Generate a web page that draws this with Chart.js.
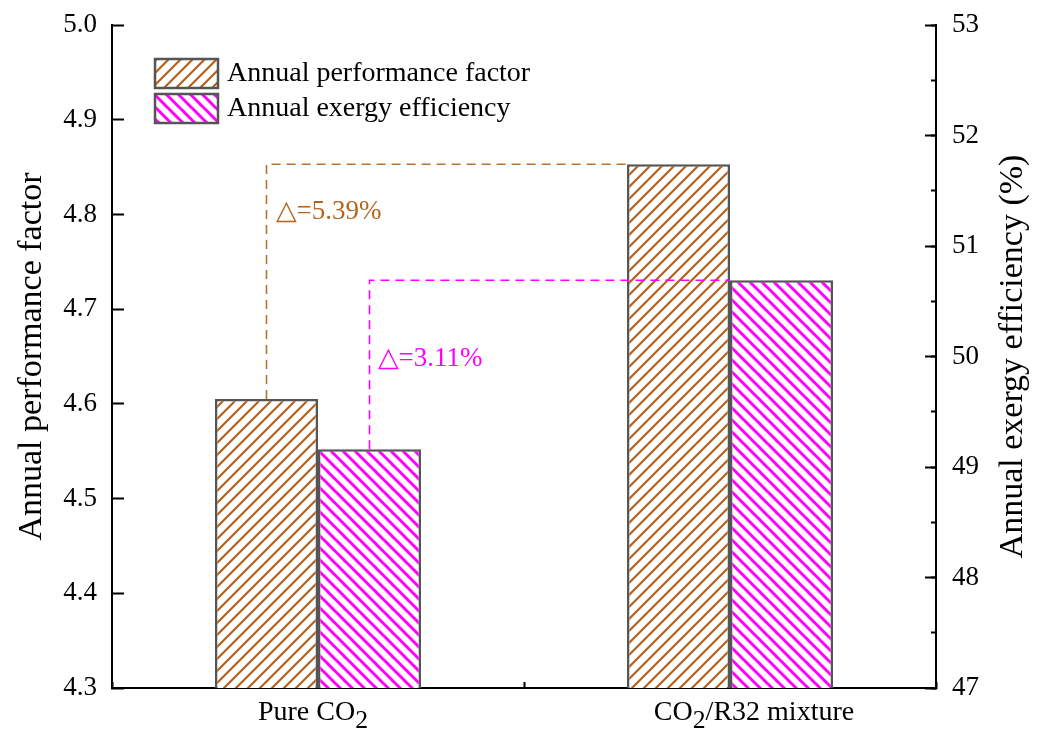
<!DOCTYPE html>
<html>
<head>
<meta charset="utf-8">
<script src="https://cdn.jsdelivr.net/npm/chart.js@4.4.1/dist/chart.umd.min.js"></script>
<style>
  body { margin: 0; background: #fff; }
  #wrap { width: 1040px; height: 731px; }
</style>
</head>
<body>
<div id="wrap"><canvas id="apfChart"></canvas></div>
<script>
// data
const categories = ['Pure CO₂', 'CO₂/R32 mixture'];
const seriesNames = ['Annual performance factor', 'Annual exergy efficiency'];
const apfValues = [4.605, 4.853];
const exergyValues = [49.16, 50.69];
const apfAxis = [4.3, 5.0, 0.1];   // min, max, step
const exergyAxis = [47, 53, 1];
const axisTitles = ['Annual performance factor', 'Annual exergy efficiency (%)'];
const deltaLabels = ['△=5.39%', '△=3.11%'];

const SERIF = "'Liberation Serif', 'Times New Roman', serif";
const BROWN = '#b5611a';
const MAGENTA = '#ff00ff';
Chart.defaults.font.family = SERIF;
Chart.defaults.color = '#000';

// diagonal hatch fill, dir 1 = "/" , -1 = "\"
function hatch(color, width, dir) {
    const s = 12;
    const c = document.createElement('canvas');
    c.width = s; c.height = s;
    const g = c.getContext('2d');
    g.fillStyle = '#fff';
    g.fillRect(0, 0, s, s);
    g.strokeStyle = color;
    g.lineWidth = width;
    g.beginPath();
    for (let k = -1; k <= 1; k++) {
        if (dir > 0) {
            g.moveTo(k * s - 1, s + 1);
            g.lineTo(k * s + s + 1, -1);
        } else {
            g.moveTo(k * s - 1, -1);
            g.lineTo(k * s + s + 1, s + 1);
        }
    }
    g.stroke();
    return g.createPattern(c, 'repeat');
}

const ctxMain = document.getElementById('apfChart').getContext('2d');
const brownHatch = hatch(BROWN, 2.2, 1);
const magentaHatch = hatch(MAGENTA, 3, -1);

// text with "₂" drawn as a lowered digit
function drawSub(ctx, text, cx, baseline, size, align) {
    const parts = text.split('₂');
    const subSize = size * 0.92;
    let total = 0;
    const pieces = [];
    parts.forEach((p, i) => {
        ctx.font = size + 'px ' + SERIF;
        pieces.push({ t: p, w: ctx.measureText(p).width, sub: false });
        total += pieces[pieces.length - 1].w;
        if (i < parts.length - 1) {
            ctx.font = subSize + 'px ' + SERIF;
            pieces.push({ t: '2', w: ctx.measureText('2').width, sub: true });
            total += pieces[pieces.length - 1].w;
        }
    });
    let x = align === 'left' ? cx : cx - total / 2;
    ctx.textAlign = 'left';
    ctx.textBaseline = 'alphabetic';
    pieces.forEach(p => {
        ctx.font = (p.sub ? subSize : size) + 'px ' + SERIF;
        ctx.fillText(p.t, x, baseline + (p.sub ? 8 : 0));
        x += p.w;
    });
}

function drawLink(ctx, from, to, color) {
    const x0 = from.x, y0 = from.y;
    const x1 = to.x - to.width / 2, y1 = to.y;
    ctx.save();
    ctx.strokeStyle = color;
    ctx.lineWidth = 1.6;
    ctx.setLineDash([9, 6]);
    ctx.beginPath();
    ctx.moveTo(x0, y0);
    ctx.lineTo(x0, y1);
    ctx.lineTo(x1, y1);
    ctx.stroke();
    ctx.restore();
    return { x: x0, y: y1 };
}

const annotate = {
    id: 'annotate',
    afterDatasetsDraw(chart) {
        const ctx = chart.ctx;
        const apfBars = chart.getDatasetMeta(0).data;
        const exBars = chart.getDatasetMeta(1).data;
        const a = drawLink(ctx, apfBars[0], apfBars[1], '#b8732e');
        const b = drawLink(ctx, exBars[0], exBars[1], MAGENTA);
        ctx.save();
        ctx.font = '27px ' + SERIF;
        ctx.textAlign = 'left';
        ctx.textBaseline = 'alphabetic';
        ctx.fillStyle = '#b5641e';
        ctx.fillText(deltaLabels[0], a.x + 9, a.y + 55);
        ctx.fillStyle = MAGENTA;
        ctx.fillText(deltaLabels[1], b.x + 8, b.y + 86);
        ctx.restore();
    },
    afterDraw(chart) {
        const ctx = chart.ctx;
        const area = chart.chartArea;
        ctx.save();
        ctx.fillStyle = '#000';

        // category labels
        const xs = chart.scales.x;
        const shift = [-5, 24];
        categories.forEach((c, i) => {
            drawSub(ctx, c, xs.getPixelForTick(i) + shift[i], 720, 28);
        });

        // right axis title, reading bottom to top
        const r = chart.scales.y1;
        ctx.translate(r.right - 27, (area.top + area.bottom) / 2);
        ctx.rotate(-Math.PI / 2);
        ctx.font = '34px ' + SERIF;
        ctx.textAlign = 'center';
        ctx.textBaseline = 'middle';
        ctx.fillText(axisTitles[1], 0, 0);
        ctx.setTransform(1, 0, 0, 1, 0, 0);

        // legend
        const fills = [brownHatch, magentaHatch];
        const lx = area.left + 43, ly = area.top + 34;
        seriesNames.forEach((name, i) => {
            const y = ly + i * 35;
            ctx.fillStyle = fills[i];
            ctx.fillRect(lx, y, 63, 29);
            ctx.strokeStyle = '#555';
            ctx.lineWidth = 2.5;
            ctx.strokeRect(lx, y, 63, 29);
            ctx.fillStyle = '#000';
            ctx.font = '28px ' + SERIF;
            ctx.textAlign = 'left';
            ctx.textBaseline = 'middle';
            ctx.fillText(name, lx + 72, y + 15);
        });
        ctx.restore();
    }
};

const tickFont = { family: SERIF, size: 27 };

// fixed box size, no extra room for the end labels
function fixWidth(w) {
    return s => {
        s.width = w;
        s.paddingTop = 0;
        s.paddingBottom = 0;
    };
}

new Chart(ctxMain, {
    type: 'bar',
    data: {
        labels: categories,
        datasets: [
            {
                label: seriesNames[0],
                data: apfValues,
                yAxisID: 'y',
                backgroundColor: brownHatch,
                borderColor: '#555',
                borderWidth: 2.5
            },
            {
                label: seriesNames[1],
                data: exergyValues,
                yAxisID: 'y1',
                backgroundColor: magentaHatch,
                borderColor: '#555',
                borderWidth: 2.5
            }
        ]
    },
    options: {
        responsive: true,
        maintainAspectRatio: false,
        animation: false,
        barPercentage: 1,
        categoryPercentage: 0.5,
        layout: { padding: { top: 25, left: 0, right: 0, bottom: 0 } },
        plugins: {
            legend: { display: false },
            tooltip: { enabled: false }
        },
        scales: {
            x: {
                ticks: { display: false },
                grid: { drawOnChartArea: false, tickLength: -6, tickColor: '#000', tickWidth: 2 },
                border: { color: '#000', width: 2 },
                afterFit: s => { s.height = 43; }
            },
            y: {
                position: 'left',
                min: apfAxis[0],
                max: apfAxis[1],
                ticks: {
                    stepSize: apfAxis[2],
                    padding: 27,
                    font: tickFont,
                    color: '#000',
                    callback: v => Number(v).toFixed(1)
                },
                grid: { drawOnChartArea: false, tickLength: -12, tickColor: '#000', tickWidth: 2 },
                border: { color: '#000', width: 2 },
                title: {
                    display: true,
                    text: axisTitles[0],
                    color: '#000',
                    font: { family: SERIF, size: 34 },
                    padding: { top: 12, bottom: 0 }
                },
                afterFit: fixWidth(112)
            },
            y1: {
                position: 'right',
                weight: 1,
                min: exergyAxis[0],
                max: exergyAxis[1],
                ticks: {
                    stepSize: exergyAxis[2],
                    padding: 27,
                    font: tickFont,
                    color: '#000'
                },
                grid: { drawOnChartArea: false, tickLength: -11, tickColor: '#000', tickWidth: 2 },
                border: { color: '#000', width: 2 },
                afterFit: fixWidth(104)
            },
            y1minor: {
                position: 'right',
                weight: 0,
                min: exergyAxis[0],
                max: exergyAxis[1],
                ticks: { display: false, stepSize: exergyAxis[2] / 2 },
                grid: { drawOnChartArea: false, tickLength: -5, tickColor: '#000', tickWidth: 2 },
                border: { display: false },
                afterFit: fixWidth(0)
            }
        }
    },
    plugins: [annotate]
});
</script>
</body>
</html>
